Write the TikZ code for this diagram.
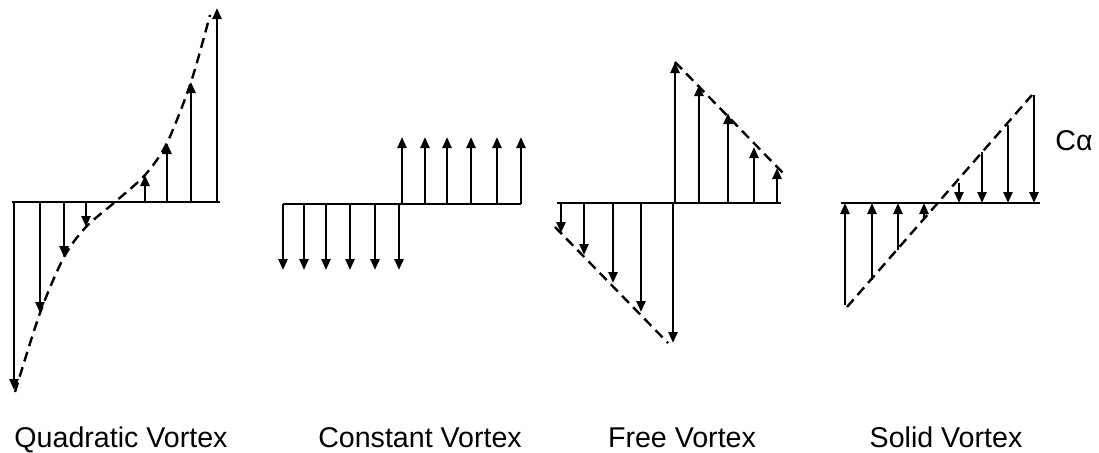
\documentclass[tikz,border=0pt]{standalone}
\usepackage{fontspec}
\setmainfont{Liberation Sans}
\usepackage{tikz}
\usetikzlibrary{arrows.meta, positioning}

\begin{document}
\begin{tikzpicture}[x=0.5pt, y=-0.5pt,
    axis/.style={line width=1.2pt},
    vec/.style={line width=1.2pt, -{Triangle[length=5.5pt, width=4.5pt]}},
    profile/.style={line width=1.2pt, dash pattern=on 5pt off 3pt},
    caption/.style={font=\fontsize{14.3}{16}\selectfont, inner sep=0pt}]
    \useasboundingbox (0,0) rectangle (1099,452);
    % quadratic vortex
    \draw [axis] (12,202) -- (220,202);
    \foreach \x/\y in {14/390,40/313,64/257,86/227,145/175,167/143,191/82,217/8} { \draw [vec] (\x,202) -- (\x,\y); }
    \draw [profile] plot [smooth] coordinates {(15,392) (40,313) (64,257) (86,227) (115,202) (145,175) (167,143) (191,82) (210,15)};
    % constant vortex
    \draw [axis] (283,204) -- (521,204);
    \foreach \x in {283,304,326,350,375,399} { \draw [vec] (\x,204) -- (\x,270); }
    \foreach \x in {402,425,447,471,497,521} { \draw [vec] (\x,204) -- (\x,137); }
    % free vortex
    \draw [axis] (557,203) -- (781,203);
    \foreach \x/\y in {561/233,584/255,613/283,641/312,673/343,675/62,699/85,728/113,754/147,777/168} { \draw [vec] (\x,203) -- (\x,\y); }
    \draw [profile] (555,227) -- (668,343);
    \draw [profile] (675,62) -- (783,173);
    % solid vortex
    \draw [axis] (841,203) -- (1040,203);
    \foreach \x/\y in {845/305,872/280,898/250,924/218,959/183,982/152,1008/125,1034/95} { \draw [vec] (\x,\y) -- (\x,203); }
    \draw [profile] (847,307) -- (1032,95);
    \node [caption, anchor=west] (calpha) at (1055,141) {Cα};
    % captions
    \node [caption, anchor=base] (quad) at (121,447) {Quadratic Vortex};
    \node [caption, anchor=base] (const) at (420,447) {Constant Vortex};
    \node [caption, anchor=base] (free) at (682,447) {Free Vortex};
    \node [caption, anchor=base] (solid) at (946,447) {Solid Vortex};
\end{tikzpicture}
\end{document}
